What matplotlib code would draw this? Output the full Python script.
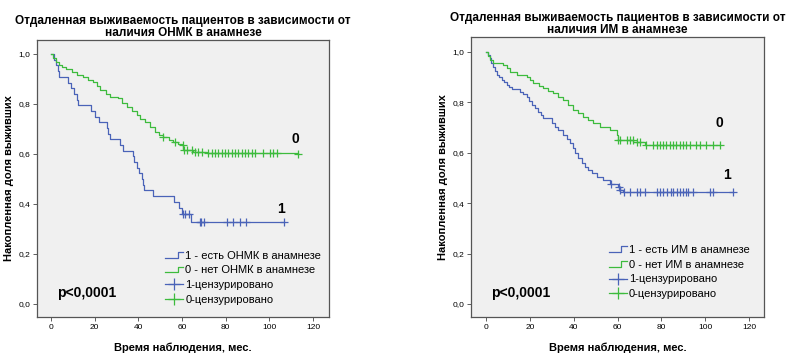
import matplotlib
matplotlib.use("Agg")
import matplotlib.pyplot as plt
import numpy as np
from matplotlib.legend_handler import HandlerBase
from matplotlib.lines import Line2D

plt.rcParams['font.family'] = ['Liberation Sans', 'DejaVu Sans']

# --- data: panel A (ОНМК) ---
onmk_yes_t = [0, 1.5, 2.5, 3, 3.5, 8, 9, 10.5, 12, 12.3, 18.2, 20, 22, 25.8, 26.3, 27,
              31.6, 33, 37.4, 37.8, 39.3, 40.5, 41.5, 42.3, 42.8, 46.9, 56.3, 58.6, 60, 64.1, 106.7]
onmk_yes_s = [1.0, 0.977, 0.955, 0.932, 0.909, 0.886, 0.864, 0.841, 0.818, 0.795, 0.773, 0.750,
              0.727, 0.705, 0.682, 0.659, 0.636, 0.614, 0.591, 0.568, 0.545, 0.523, 0.500, 0.477,
              0.455, 0.432, 0.409, 0.386, 0.360, 0.327, 0.327]
onmk_yes_cens = [60.3, 61.4, 63.2, 68.2, 68.9, 70, 80.5, 83.2, 86.6, 89.2, 106.7]

onmk_no_t = [0, 1, 2.3, 3.5, 4.9, 7, 9.5, 12, 14.8, 17, 19.4, 21, 22.4, 25, 27, 30.8, 32.5, 34.7,
             37, 39.3, 41, 43.1, 45.5, 47.6, 49.5, 51.4, 54, 56, 58, 59.9, 60.6, 65, 71.3, 113.3]
onmk_no_s = [1.0, 0.985, 0.969, 0.958, 0.949, 0.94, 0.929, 0.918, 0.907, 0.898, 0.889, 0.872,
             0.856, 0.842, 0.829, 0.823, 0.806, 0.789, 0.772, 0.756, 0.742, 0.729, 0.71, 0.689,
             0.678, 0.667, 0.658, 0.649, 0.642, 0.636, 0.616, 0.61, 0.605, 0.601]
onmk_no_cens = [51.4, 56.8, 60.3, 61.1, 62.1, 64.4, 66, 67.5, 69, 72, 73.6, 75.1, 76.6, 78.2,
                79.7, 81.2, 82.8, 84.3, 85.8, 87.4, 88.9, 90.4, 92, 93.5, 97.3, 100.3, 101.8,
                103.4, 113.3]

# --- data: panel B (ИМ) ---
im_yes_t = [0, 1, 1.8, 2.5, 3.3, 4, 4.9, 6, 7.1, 8.2, 9.4, 10.5, 11.7, 15.5, 17, 18.6, 19.7,
            20.8, 22.3, 23.9, 25, 26.1, 30, 31.5, 33, 35.3, 36.8, 38.3, 39.5, 40.6, 42, 43.7,
            45, 46.7, 48.5, 50.5, 53.5, 56.6, 60.4, 61.1, 62.4, 112.8]
im_yes_s = [1.0, 0.988, 0.975, 0.958, 0.942, 0.925, 0.909, 0.899, 0.889, 0.879, 0.869, 0.86,
            0.852, 0.842, 0.832, 0.823, 0.806, 0.79, 0.776, 0.763, 0.75, 0.737, 0.717, 0.703,
            0.69, 0.671, 0.655, 0.638, 0.618, 0.598, 0.578, 0.558, 0.545, 0.532, 0.518, 0.505,
            0.492, 0.476, 0.466, 0.452, 0.443, 0.443]
im_yes_cens = [57, 60.6, 61.2, 63, 65.7, 69, 70.3, 72.5, 77.9, 79.4, 80.9, 82.4, 84.3, 85.4,
               87.3, 88.5, 90, 91.2, 92.3, 94.6, 102.2, 103.4, 112.8]

im_no_t = [0, 1, 1.8, 3.3, 7.9, 9.5, 10.9, 14, 18.6, 20, 21.6, 24, 26.1, 28.5, 30.7, 33, 35.3,
           37.5, 39.8, 42, 44.4, 46.5, 49, 52, 56.6, 59.6, 60.4, 67.2, 72.5, 106.8]
im_no_s = [1.0, 0.984, 0.968, 0.958, 0.948, 0.935, 0.922, 0.909, 0.9, 0.888, 0.876, 0.866,
           0.856, 0.846, 0.836, 0.823, 0.81, 0.79, 0.77, 0.757, 0.743, 0.73, 0.717, 0.701,
           0.69, 0.671, 0.651, 0.644, 0.631, 0.631]
im_no_cens = [60.4, 61.1, 64.1, 65.6, 67.1, 68.7, 70.2, 73.2, 76.3, 77.8, 79.3, 80.8, 82.3,
              83.8, 85.4, 86.9, 88.4, 89.9, 91.4, 93, 96, 97.5, 100.5, 103.6, 106.6]

xticks = [0, 20, 40, 60, 80, 100, 120]
yticks = [0.0, 0.2, 0.4, 0.6, 0.8, 1.0]
ytick_labels = ['0,0', '0,2', '0,4', '0,6', '0,8', '1,0']

BLUE = '#4a63b8'
GREEN = '#3dbb3d'
BG = '#f0f0f0'


def surv_at(t, times, surv):
    idx = np.searchsorted(times, t, side='right') - 1
    return np.asarray(surv)[np.clip(idx, 0, len(surv) - 1)]


class StepHandler(HandlerBase):
    # legend icon drawn as a small step "_|‾"
    def create_artists(self, legend, orig_handle, xdescent, ydescent,
                       width, height, fontsize, trans):
        x0, y0 = -xdescent, -ydescent
        xs = [x0, x0 + 0.7 * width, x0 + 0.7 * width, x0 + width]
        ys = [y0 + 0.1 * height, y0 + 0.1 * height, y0 + 0.85 * height, y0 + 0.85 * height]
        ln = Line2D(xs, ys, color=orig_handle.get_color(), lw=0.9)
        ln.set_transform(trans)
        return [ln]


def panel(ax, title, d1, d0, lab1, lab0, xlim, ylim, pos0, pos1, leg_anchor, title_pad):
    t1, s1, c1 = d1
    t0, s0, c0 = d0
    ax.set_facecolor(BG)
    l1, = ax.step(t1, s1, where='post', color=BLUE, lw=0.9)
    l0, = ax.step(t0, s0, where='post', color=GREEN, lw=0.9)
    ax.plot(c1, surv_at(c1, t1, s1), ls='none', marker='+', ms=6, mew=0.9, color=BLUE)
    ax.plot(c0, surv_at(c0, t0, s0), ls='none', marker='+', ms=6, mew=0.9, color=GREEN)

    ax.set_xlim(*xlim)
    ax.set_ylim(*ylim)
    ax.set_xticks(xticks)
    ax.set_xticklabels([str(x) for x in xticks])
    ax.set_yticks(yticks)
    ax.set_yticklabels(ytick_labels)
    ax.tick_params(labelsize=6, length=3, width=0.6, color='#444444', pad=2)
    for sp in ax.spines.values():
        sp.set_color('#555555')
        sp.set_linewidth(0.9)

    ax.set_title(title, fontsize=8.5, fontweight='bold', pad=title_pad, linespacing=1.0)
    ax.set_xlabel('Время наблюдения, мес.', fontsize=8, fontweight='bold', labelpad=8)
    ax.set_ylabel('Накопленная доля выживших', fontsize=8, fontweight='bold', labelpad=3)

    ax.text(pos0[0], pos0[1], '0', fontsize=10, fontweight='bold', ha='center', va='center')
    ax.text(pos1[0], pos1[1], '1', fontsize=10, fontweight='bold', ha='center', va='center')
    ax.text(0.07, 0.085, 'p<0,0001', transform=ax.transAxes, fontsize=10,
            fontweight='bold', ha='left', va='center')

    m1 = Line2D([], [], color=BLUE, lw=0.9, marker='+', ms=9, mew=0.9)
    m0 = Line2D([], [], color=GREEN, lw=0.9, marker='+', ms=9, mew=0.9)
    ax.legend([l1, l0, m1, m0], [lab1, lab0, '1-цензурировано', '0-цензурировано'],
              handler_map={l1: StepHandler(), l0: StepHandler()},
              loc='lower left', bbox_to_anchor=leg_anchor, frameon=False,
              fontsize=8, handlelength=1.6, handletextpad=0.2, labelspacing=0.42,
              borderpad=0, borderaxespad=0)


fig = plt.figure(figsize=(7.87, 3.6), dpi=100)
ax1 = fig.add_axes([0.0470, 0.1194, 0.3710, 0.7694])
ax2 = fig.add_axes([0.5985, 0.1194, 0.3723, 0.7778])

panel(ax1, 'Отдаленная выживаемость пациентов в зависимости от\nналичия ОНМК в анамнезе',
      (onmk_yes_t, onmk_yes_s, onmk_yes_cens), (onmk_no_t, onmk_no_s, onmk_no_cens),
      '1 - есть ОНМК в анамнезе', '0 - нет ОНМК в анамнезе',
      (-6.41, 127.33), (-0.052, 1.056), (112, 0.66), (105.5, 0.38), (0.44, 0.045), 3)
panel(ax2, 'Отдаленная выживаемость пациентов в зависимости от\nналичия ИМ в анамнезе',
      (im_yes_t, im_yes_s, im_yes_cens), (im_no_t, im_no_s, im_no_cens),
      '1 - есть ИМ в анамнезе', '0 - нет ИМ в анамнезе',
      (-6.84, 126.84), (-0.0516, 1.0595), (106.5, 0.72), (110, 0.51), (0.47, 0.064), 3)

fig.savefig('out.png', dpi=100)
